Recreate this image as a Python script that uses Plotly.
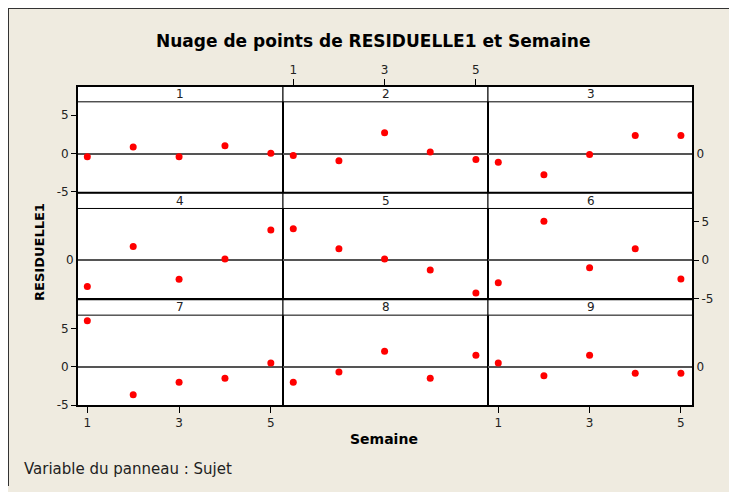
import plotly.graph_objects as go

# Data: residuals per subject (Sujet 1..9), weeks 1..5
semaines = [1, 2, 3, 4, 5]
sujets = ["1", "2", "3", "4", "5", "6", "7", "8", "9"]
residuelle_1 = [-0.43, 0.86, -0.43, 1.03, 0.04]
residuelle_2 = [-0.26, -0.95, 2.71, 0.22, -0.78]
residuelle_3 = [-1.12, -2.76, -0.13, 2.37, 2.37]
residuelle_4 = [-3.42, 1.79, -2.49, 0.17, 3.94]
residuelle_5 = [4.10, 1.50, 0.17, -1.28, -4.28]
residuelle_6 = [-2.95, 5.10, -0.99, 1.50, -2.44]
residuelle_7 = [6.03, -3.63, -1.99, -1.47, 0.52]
residuelle_8 = [-1.99, -0.65, 2.04, -1.47, 1.52]
residuelle_9 = [0.52, -1.17, 1.52, -0.82, -0.82]
residuelles = [residuelle_1, residuelle_2, residuelle_3, residuelle_4, residuelle_5,
               residuelle_6, residuelle_7, residuelle_8, residuelle_9]
y_ticks = [-5, 0, 5]
y_ticktext = ["-5", "0", "5"]
x_ticks = [1, 3, 5]

# the page body keeps its default 8px margin, so the figure is drawn 8px in
OFF = 8
W, H = 737 - OFF, 492 - OFF
FONT = "DejaVu Sans"
BG = "#EFEBE0"


def px(x):
    return (x - OFF) / W


def py(y):
    return 1 - (y - OFF) / H


# Panel geometry in page pixels
col_edges = [(77, 283), (283, 488), (488, 693)]
row_tops = [87, 195, 303]
strip_h = 16
plot_h = 92
y_lo, y_hi = -5.1, 6.75
y_top = y_hi + strip_h * (y_hi - y_lo) / plot_h
x_range = [0.775, 5.265]

fig = go.Figure()
shapes = []
annotations = []

for k, res in enumerate(residuelles):
    r, c = divmod(k, 3)
    n = "" if k == 0 else str(k + 1)
    fig.add_trace(go.Scatter(
        x=semaines, y=res, mode="markers",
        marker=dict(color="#FF0000", size=7),
        xaxis="x" + n, yaxis="y" + n, showlegend=False,
        hovertemplate="Semaine %{x}<br>RESIDUELLE1 %{y:.2f}<extra>Sujet " + sujets[k] + "</extra>"
    ))

    x0, x1 = col_edges[c]
    top = row_tops[r]
    bottom = top + strip_h + plot_h

    # x ticks: bottom for columns 1 and 3 on the last row, top for column 2 on the first row
    xa = dict(domain=[px(x0), px(x1)], range=x_range, anchor="y" + n,
              showgrid=False, zeroline=False, showline=True, mirror=True,
              linecolor="black", linewidth=1,
              tickvals=x_ticks, ticks="", showticklabels=False,
              tickfont=dict(family=FONT, size=12, color="#222"))
    if r == 2 and c in (0, 2):
        xa.update(side="bottom", ticks="outside", ticklen=6, tickwidth=1, tickcolor="black",
                  showticklabels=True)
    if r == 0 and c == 1:
        xa.update(side="top", ticks="outside", ticklen=6, tickwidth=1, tickcolor="black",
                  showticklabels=True)

    ya = dict(domain=[py(bottom), py(top)], range=[y_lo, y_top], anchor="x" + n,
              showgrid=False, zeroline=True, zerolinecolor="#555", zerolinewidth=1.5,
              showline=True, mirror=True, linecolor="black", linewidth=1,
              tickvals=y_ticks, ticktext=y_ticktext, ticks="", showticklabels=False,
              tickfont=dict(family=FONT, size=12, color="#222"))
    full = dict(tickvals=y_ticks, ticktext=y_ticktext, ticks="outside", ticklen=5,
                tickwidth=1, tickcolor="black", showticklabels=True)
    zero_only = dict(tickvals=[0], ticktext=["0"], showticklabels=True)
    if c == 0:
        ya.update(side="left")
        ya.update(zero_only if r == 1 else full)
    if c == 2:
        ya.update(side="right")
        ya.update(full if r == 1 else zero_only)

    fig.layout["xaxis" + n] = xa
    fig.layout["yaxis" + n] = ya

    # strip with the subject label
    shapes.append(dict(type="rect", xref="paper", yref="paper",
                       x0=px(x0), x1=px(x1), y0=py(top + strip_h), y1=py(top),
                       fillcolor="white", line=dict(color="black", width=1), layer="above"))
    annotations.append(dict(text=sujets[k], xref="paper", yref="paper",
                            x=px((x0 + x1) / 2), y=py(top + strip_h / 2),
                            showarrow=False, font=dict(family=FONT, size=12, color="#222"),
                            xanchor="center", yanchor="middle"))

# heavier outer frame and strip top edges
shapes.append(dict(type="rect", xref="paper", yref="paper",
                   x0=px(77), x1=px(693), y0=py(411), y1=py(87),
                   line=dict(color="black", width=2), layer="above"))
for top in row_tops:
    shapes.append(dict(type="line", xref="paper", yref="paper", x0=px(77), x1=px(693),
                       y0=py(top), y1=py(top), line=dict(color="black", width=2), layer="above"))

# border at top and left of the background
shapes.append(dict(type="line", xref="paper", yref="paper", x0=0, x1=1,
                   y0=1, y1=1, line=dict(color="#333", width=2), layer="below"))
shapes.append(dict(type="line", xref="paper", yref="paper", x0=0, x1=0,
                   y0=0, y1=1, line=dict(color="#333", width=2), layer="below"))

annotations += [
    dict(text="<b>Nuage de points de RESIDUELLE1 et Semaine</b>", xref="paper", yref="paper",
         x=px(373), y=py(41), showarrow=False, xanchor="center", yanchor="middle",
         font=dict(family=FONT, size=17, color="black")),
    dict(text="<b>RESIDUELLE1</b>", xref="paper", yref="paper", x=px(40), y=py(255),
         textangle=-90, showarrow=False, xanchor="center", yanchor="middle",
         font=dict(family=FONT, size=13, color="black")),
    dict(text="<b>Semaine</b>", xref="paper", yref="paper", x=px(384), y=py(444),
         showarrow=False, xanchor="center", yanchor="middle",
         font=dict(family=FONT, size=14, color="black")),
    dict(text="Variable du panneau : Sujet", xref="paper", yref="paper", x=px(22), y=py(475),
         showarrow=False, xanchor="left", yanchor="middle",
         font=dict(family=FONT, size=15, color="#222")),
]

fig.update_layout(
    width=W, height=H,
    margin=dict(l=0, r=0, t=0, b=0),
    paper_bgcolor=BG,
    plot_bgcolor="white",
    shapes=shapes,
    annotations=annotations,
)

fig.write_html("out.html")
